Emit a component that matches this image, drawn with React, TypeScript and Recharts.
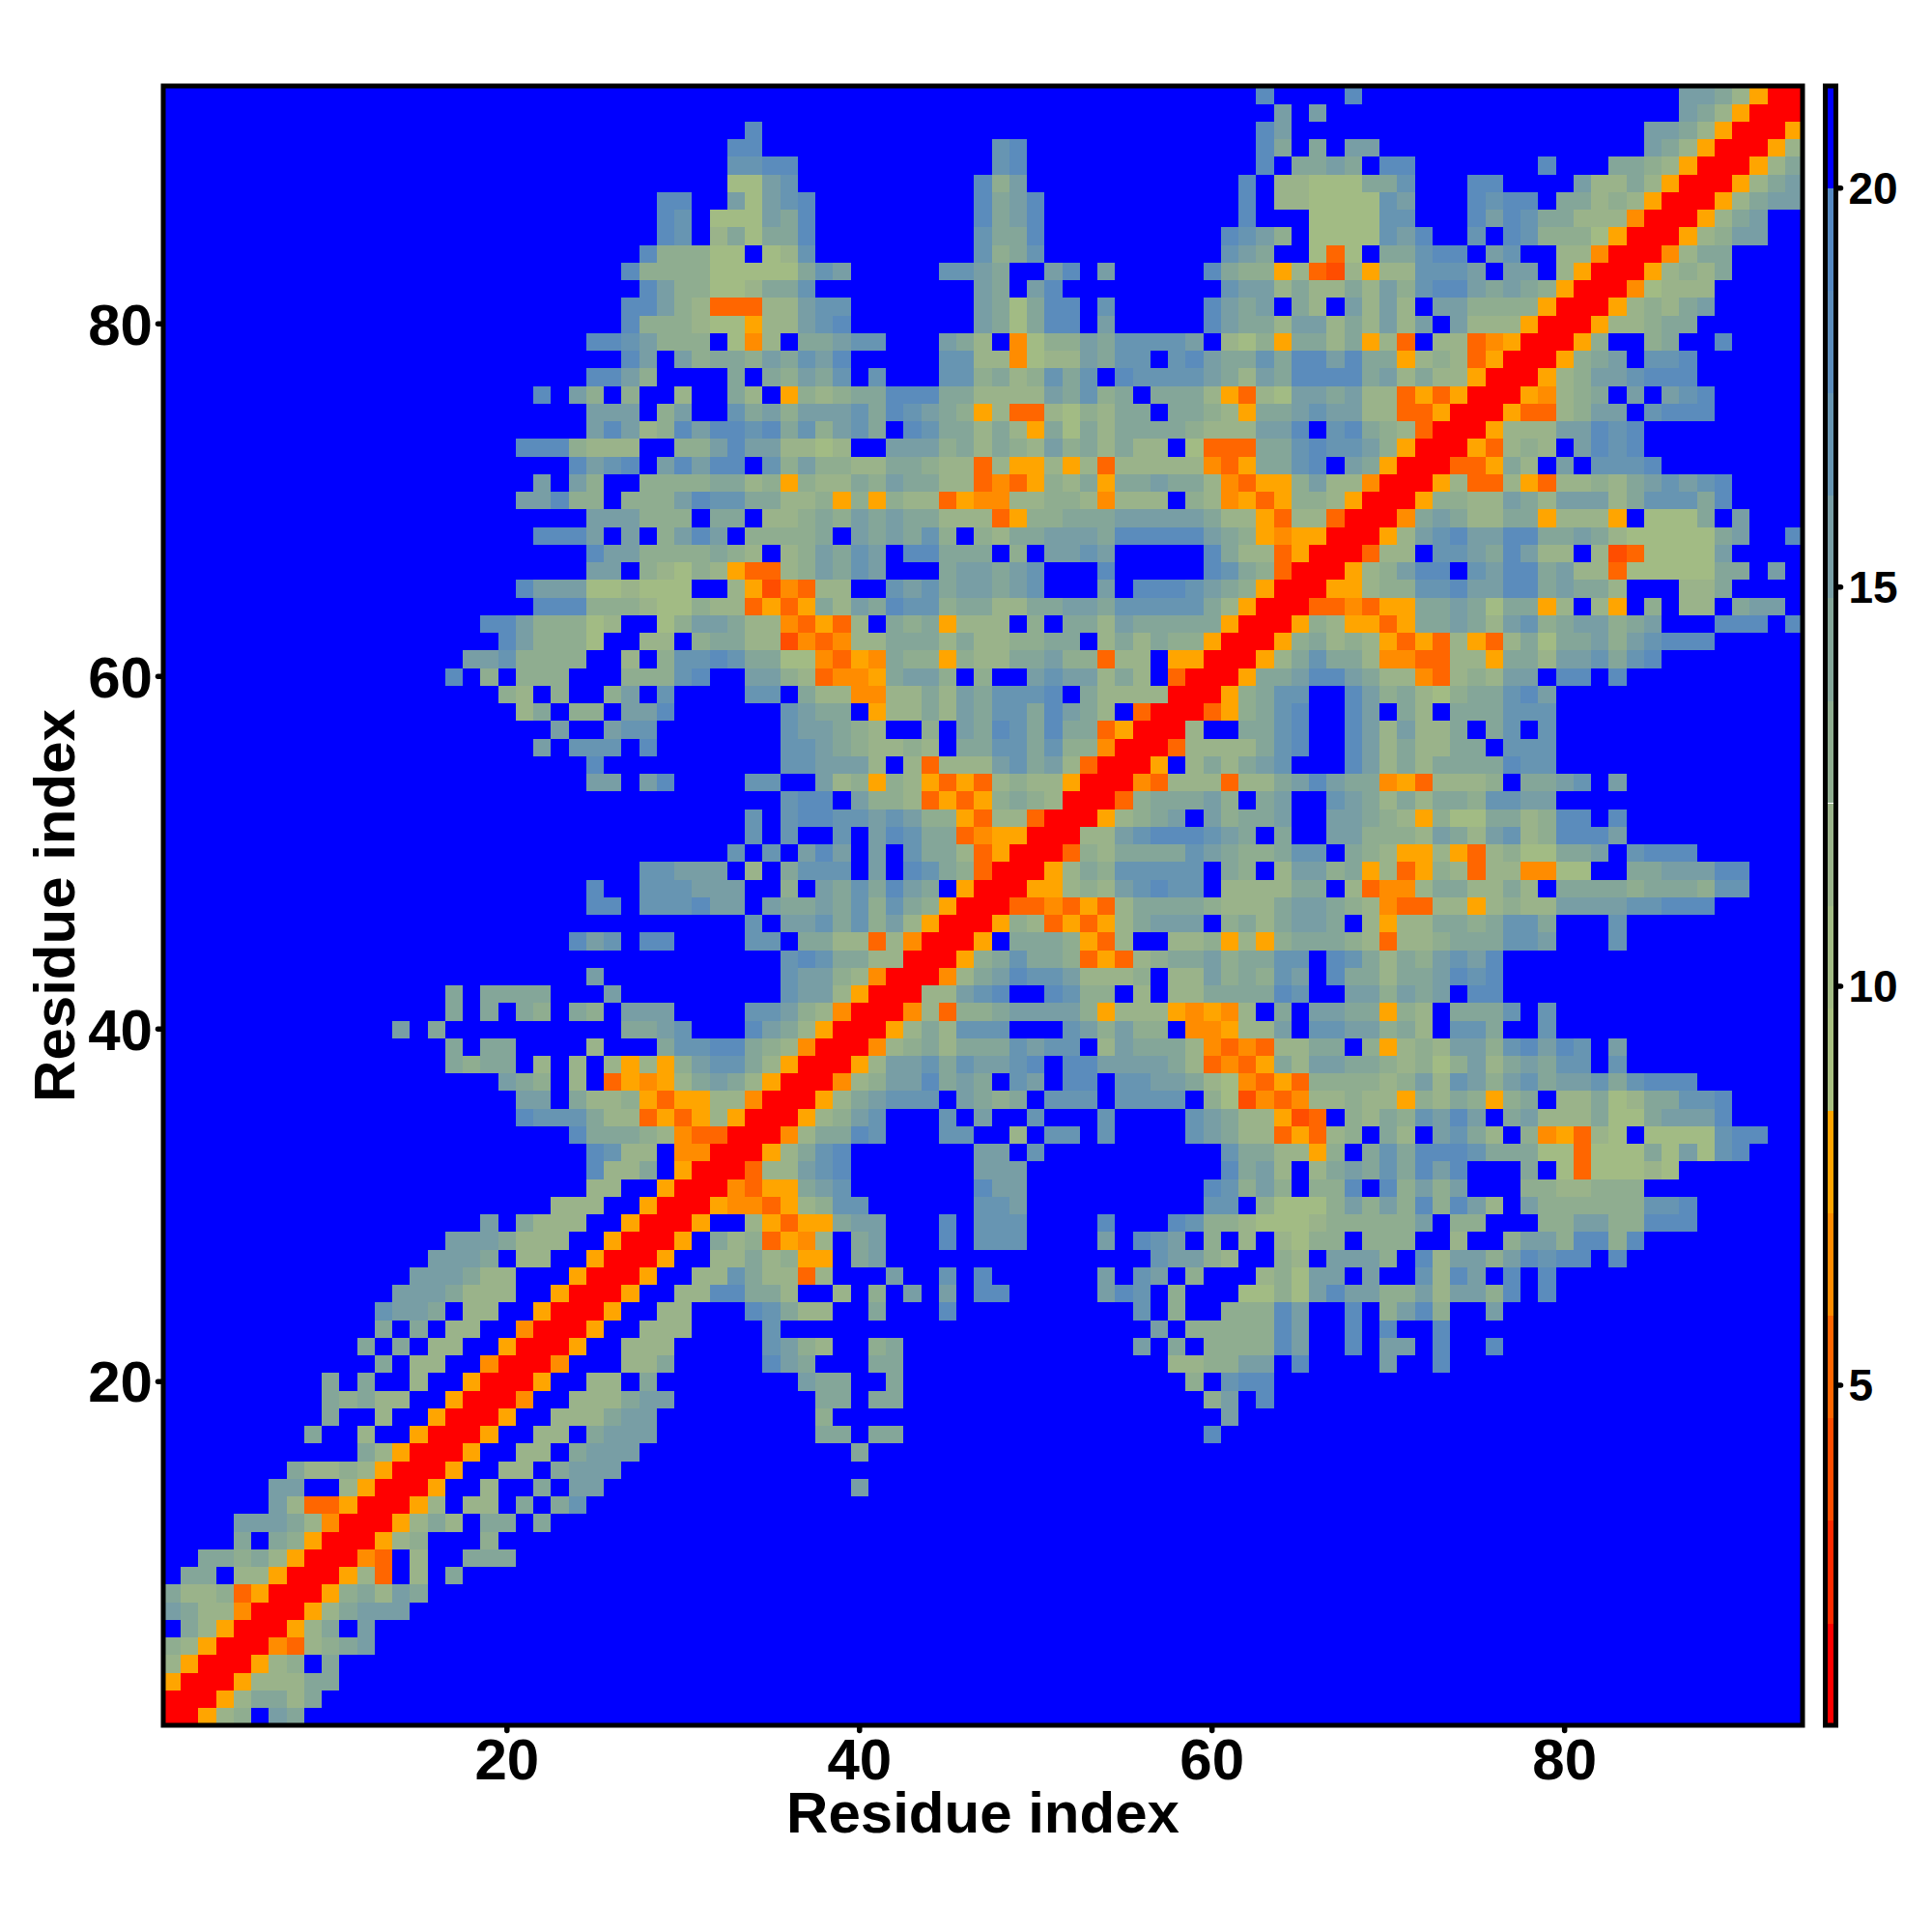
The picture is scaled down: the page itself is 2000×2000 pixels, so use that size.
import React from "react";
import { ScatterChart, Scatter, XAxis, YAxis, Label } from "recharts";

// Upper triangle of the symmetric distance map, one entry per residue row from 93 down to 1.
// Each entry is "firstColumn:levels"; a level is a hex index into levelColors, "." is the top (blue) level.
const rowSegments: string[] = [
  "63:d 68:d 87:bba8500",
  "64:b 66:b 87:ba8500",
  "34:d 63:db 85:bba8500",
  "33:dd 48:cd 63:da 66:a 68:bb 85:ba8500",
  "33:ccdd 48:cd 63:d.aaba.dd 79:d 83:aa98500",
  "33:77bc 47:d9b 62:d.88777aac 75:dd 81:b88a8500",
  "29:dd 33:b7bcd 47:dabd 62:d.887777cb 75:dcdd.aa898500",
  "29:dc.777bad 47:dabd 62:d...7777cc 75:dbdcaa888400",
  "29:dc.8a7aad 47:caad 61:dcb9.7777cbd 75:c.dc9997500",
  "28:d99977.78c 47:c9ac 61:cba..737.aacdd.bc..88400",
  "27:d999977777acb 45:ccba..bd.b 60:da9958328588cccb.bb.8500",
  "28:db99778aac 47:ba.bd 61:cbb8a88a8b9cddbaba9500",
  "27:ddb9833388bcc 47:ba7add.c 60:dbab.a8.b8b8.bb9999500",
  "27:d999877588bcd 47:ba7add.b 60:dbaa8bb8a8b8b.b888500",
  "25:ddcb999.748.aabcc 45:ba8.4799baccccb.8795aa8a583.8834500",
  "27:db.b9aa9bacbd 45:cc884788bacc.cdbaacaddbdaa58983500",
  "25:ddb9 33:a.a9bac.c 45:cc9a89cac.dccccba8baddddab8a88500",
  "22:d 24:b9.9..8 33:a8.5989aadddaa8888bac9a.aaa85387bbab88353500",
  "25:bbb.9b 33:cab9bbbcadcba958338798aa.aa985aabcbb8833500",
  "25:bdb89dbddcdac9bca.dcaa8a85a7a8aaaa9888bbd.cda98300",
  "21:ddd9888..99bdbb8878..bbb9a8a98b9a8a88.7333aacdccb9500",
  "24:dbcd.bdbdd.c9b9988aa988385585838888843" + "5aacd.ba500",
  "22:b 24:b9..9999aa895988a9baa88343598a5aabaa843559b88400",
  "21:bbd99.999bdccaa8895959883544889984888.984535998500",
  "25:bbb999.aa.889a9babaa8883599aaabbbbba885388300",
  "22:dddb.b.9bdb.9999a.babac9.98aabbbadddddba9545500",
  "25:dbb9999a98.89bacb.ddaaa.9.bbcb.....da883500",
  "25:bb.9879853389bacb...abbabc...d.....dca9300",
  "21:dbbb778777..8524388..cbcabbabc...b.dddcba9500",
  "22:ddd9998779883535a8badcc9aa88aabbaccccca8500",
  "19:ddb99978..79bba8843538.a9a5888.9.aa8baaaaa500",
  "20:db9997..88.9aa88243488aaa8a8899aa.8a8a99500",
  "18:bbc9999..8.9ccdcaa774354a995988aab99388.5500",
  "17:d.9.999...999cd..bb983445abb9.9..bcbb8a8.300",
  "20:98.9..9b.c 34:cc.a884488a8bacccd.a888800",
  "21:8a.99.bbd 36:cbaa.588a8baccadba8.300",
  "23:b..bcc 36:cbba98..9.badcadaa3500",
  "22:b.ccc.d 36:ccba98898.aaccac99400",
  "25:d 36:ccbbb8.83888bcab8300",
  "25:bb.bd 34:cc..b8959853538988500",
  "36:cdd.b99835359a9800",
  "34:c.cddccbcb995388300",
  "34:c.c..c.bdcaa345500",
  "33:c.c.bdb.b.caa83500",
  "28:ccbbb.8.accc.b.dca9300",
  "25:d 28:cccbbb..9.bacadba.500",
  "25:dd 28:cccdbb.baabac9ca9500",
  "34:c.bbcac9b8500",
  "24:dbc 28:dd 34:cc.aa8838400",
  "36:cdcaa8800",
  "25:b 36:cbb98400",
  "17:a 19:aaaa 26:b 36:cbb8500",
  "17:a 19:a.a9 24:a9 27:bbb 34:ccb98400",
  "14:b 16:a 27:aabc 34:dba8500",
  "17:a 19:aa 25:8 29:accdda98400",
  "17:a9aa 22:8 24:8.85859bcca8500",
  "20:ba9 24:8.35458aba8500",
  "21:bb 24:a889535588400",
  "21:dccca8835358500",
  "24:daaa9843300",
  "25:dc88.4400",
  "25:d88a.5000",
  "25:88..500",
  "23:888..500",
  "19:b 21:a888..500",
  "17:bbba888..500",
  "16:bbba.88..500",
  "15:bbba88...500",
  "14:bbba888..500",
  "13:cbba.88..500",
  "13:a.a.88..400",
  "12:a.a.88..500",
  "13:a.88..400",
  "10:a.a..8..500",
  "10:a9a88..500",
  "10:a..8..500",
  "9:a..8..500",
  "12:a8500",
  "8:a8898500",
  "7:bb..8500",
  "7:b833500",
  "5:bbba8400",
  "5:a.a9500",
  "3:aa9a8500",
  "2:aa.88500",
  "1:a8893500",
  "1:ba88400",
  "2:a8500",
  "1:98500",
  "1:8500",
  "1:500",
  "1:00",
  "1:0",
];

const levelColors = [
  "#ff0000", "#ff2a00", "#ff4d00", "#ff6600", "#ff8c00", "#ffa500",
  "#a8bf80", "#a2bb84", "#9ab38a", "#8fad90", "#84a699", "#789ea5",
  "#6795b2", "#5b8cbc", "#5488c2", "#0000ff",
];
const bandMids = [1.38, 2.66, 3.95, 5.23, 6.52, 7.8, 9.09, 10.37, 11.65, 12.94, 14.22, 15.51, 16.79, 18.08, 19.36, 20.64];
const axisTicks = [20, 40, 60, 80];
const barTicks = [5, 10, 15, 20];
const axisTitle = "Residue index";

const SIZE = 93;
const matrix: number[][] = Array.from({ length: SIZE + 1 }, () => new Array(SIZE + 1).fill(15));
const putSegment = (row: number, seg: string) => {
  const [start, levels] = seg.split(":");
  [...levels].forEach((ch, i) => {
    const col = Number(start) + i;
    const level = ch === "." ? 15 : parseInt(ch, 16);
    if (col <= SIZE && row <= SIZE) {
      matrix[row][col] = level;
      matrix[col][row] = level;
    }
  });
};
rowSegments.forEach((text, i) => text.split(" ").forEach((seg) => putSegment(SIZE - i, seg)));

const cells: { x: number; y: number; level: number }[] = [];
for (let y = 1; y <= SIZE; y++) for (let x = 1; x <= SIZE; x++) cells.push({ x, y, level: matrix[y][x] });
const bands = bandMids.map((y, i) => ({ x: 0.5, y, level: i }));

const font = "'Liberation Sans', Arial, sans-serif";
const plotSize = 1697;
const cell = plotSize / SIZE;
const tickLine = { stroke: "#000", strokeWidth: 5.5, strokeLinecap: "round" as const };
const tickStyle = { fontFamily: font, fontWeight: 700, fontSize: 60, fill: "#000" };
const blank = () => "";

const CellShape = (p: any) => (
  <rect x={p.cx - cell / 2} y={p.cy - cell / 2} width={cell + 0.4} height={cell + 0.4}
    fill={levelColors[p.payload.level]} shapeRendering="crispEdges" />
);
const FrameShape = (p: any) => (
  <rect x={p.cx - plotSize / 2} y={p.cy - plotSize / 2} width={plotSize} height={plotSize}
    fill="none" stroke="#000" strokeWidth={5} />
);
const barWidth = 11;
const bandHeight = plotSize / 16;
const BandShape = (p: any) => (
  <rect x={p.cx - barWidth / 2} y={p.cy - bandHeight / 2} width={barWidth} height={bandHeight + 0.4}
    fill={levelColors[p.payload.level]} shapeRendering="crispEdges" />
);
const BarFrameShape = (p: any) => (
  <rect x={p.cx - barWidth / 2} y={p.cy - plotSize / 2} width={barWidth} height={plotSize}
    fill="none" stroke="#000" strokeWidth={5} />
);

export default function App() {
  return (
    <div style={{ position: "absolute", left: 0, top: 0, width: 2000, height: 2000, background: "#fff" }}>
      <div style={{ position: "absolute", left: 0, top: 0 }}>
        <ScatterChart width={2000} height={2000} margin={{ left: 49, right: 114, top: 69, bottom: 94 }}>
          <XAxis xAxisId="b" type="number" dataKey="x" domain={[0.5, 93.5]} ticks={axisTicks} height={120}
            axisLine={false} tickLine={tickLine} tickSize={5.5} tickMargin={7.5} tick={tickStyle} interval={0}>
            <Label value={axisTitle} position="insideBottom" offset={9} style={tickStyle} />
          </XAxis>
          <XAxis xAxisId="t" orientation="top" type="number" dataKey="x" domain={[0.5, 93.5]} ticks={axisTicks} height={20}
            axisLine={false} tickLine={tickLine} tickSize={5.5} tickFormatter={blank} interval={0} />
          <YAxis yAxisId="l" type="number" dataKey="y" domain={[0.5, 93.5]} ticks={axisTicks} width={120}
            axisLine={false} tickLine={tickLine} tickSize={5.5} tickMargin={5.5} tick={tickStyle} interval={0}>
            <Label value={axisTitle} angle={-90} position="insideLeft" offset={7} style={{ ...tickStyle, textAnchor: "middle" }} />
          </YAxis>
          <YAxis yAxisId="r" orientation="right" type="number" dataKey="y" domain={[0.5, 93.5]} ticks={axisTicks} width={20}
            axisLine={false} tickLine={tickLine} tickSize={5.5} tickFormatter={blank} interval={0} />
          <Scatter xAxisId="b" yAxisId="l" data={cells} shape={CellShape} isAnimationActive={false} />
          <Scatter xAxisId="b" yAxisId="l" data={[{ x: 47, y: 47 }]} shape={FrameShape} isAnimationActive={false} />
        </ScatterChart>
      </div>
      <div style={{ position: "absolute", left: 0, top: 0 }}>
        <ScatterChart width={2000} height={2000} margin={{ left: 1889.5, right: 0, top: 89, bottom: 214 }}>
          <XAxis type="number" dataKey="x" domain={[0, 1]} hide />
          <YAxis orientation="right" type="number" dataKey="y" domain={[0.74, 21.28]} ticks={barTicks} width={99.5}
            axisLine={false} tickLine={tickLine} tickSize={5} tickMargin={8} interval={0}
            tick={{ ...tickStyle, fontSize: 46 }} />
          <Scatter data={bands} shape={BandShape} isAnimationActive={false} />
          <Scatter data={[{ x: 0.5, y: 11.01 }]} shape={BarFrameShape} isAnimationActive={false} />
        </ScatterChart>
      </div>
    </div>
  );
}
